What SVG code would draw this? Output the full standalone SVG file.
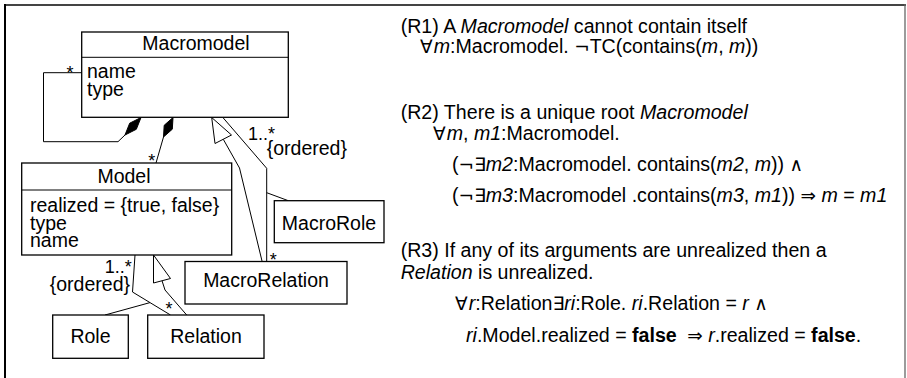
<svg xmlns="http://www.w3.org/2000/svg" width="907" height="378" viewBox="0 0 907 378">
<style>
.box{fill:#fff;stroke:#000;stroke-width:1.3}
.ln{fill:none;stroke:#000;stroke-width:1}
.t{font-family:"Liberation Sans",Arial,"DejaVu Sans",sans-serif;font-size:19.5px;fill:#000}
.s{font-family:"Liberation Sans",Arial,"DejaVu Sans",sans-serif;font-size:18px;fill:#000}
.r{font-family:"Liberation Sans",Arial,"DejaVu Sans",sans-serif;font-size:19.6px;fill:#000}
.i{font-style:italic}
.b{font-weight:bold}
.sym{font-family:"DejaVu Sans",sans-serif;font-size:18.5px;font-weight:normal}
</style>
<rect width="907" height="378" fill="#fff"/>
<g id="frame">
<line x1="4" y1="5" x2="906" y2="5" stroke="#444" stroke-width="2"/>
<line x1="5" y1="4" x2="5" y2="378" stroke="#000" stroke-width="2"/>
<line x1="905" y1="4" x2="905" y2="378" stroke="#666" stroke-width="1.3"/>
</g>
<g id="connectors">
<polyline class="ln" points="82,72.7 43.5,72.7 43.5,141.7 118,141.7 125,135"/>
<polygon points="141,117.5 136.3,129.3 125,135 129.7,123.2" fill="#000" stroke="#000" stroke-width="1"/>
<polyline class="ln" points="163.5,137 156,163"/>
<polygon points="173,117.5 172.3,129.2 163.5,137 164.2,125.3" fill="#000" stroke="#000" stroke-width="1"/>
<polyline class="ln" points="223.3,139.3 239.5,168 262,261"/>
<polygon points="211.7,117.5 215,143.5 231.5,135" fill="#fff" stroke="#000" stroke-width="1"/>
<polyline class="ln" points="223.3,118 266.7,168.3 266.7,261"/>
<polyline class="ln" points="266.7,192.7 288.3,200.7"/>
<polyline class="ln" points="135,255 132.5,292 170.5,315"/>
<polyline class="ln" points="150,302.6 105,315"/>
<polyline class="ln" points="162,280.7 165,290 186.7,315"/>
<polygon points="153.5,255 153.5,283 170.5,278.5" fill="#fff" stroke="#000" stroke-width="1"/>
<text class="s" x="70" y="79" text-anchor="middle">*</text>
<text class="s" x="151.7" y="166.5" text-anchor="middle">*</text>
<text class="s" x="273.3" y="266" text-anchor="middle">*</text>
<text class="s" x="169" y="314.5" text-anchor="middle">*</text>
<text class="s" x="248" y="140">1..*</text>
<text class="t" x="266.7" y="155">{ordered}</text>
<text class="s" x="131.7" y="273" text-anchor="end">1..*</text>
<text class="t" x="130" y="291" text-anchor="end">{ordered}</text>
</g>
<g id="Macromodel">
<rect class="box" x="81.7" y="32" width="206.6" height="85.3"/>
<line class="ln" x1="81.7" y1="57.3" x2="288.3" y2="57.3" stroke-width="1.3"/>
<text class="t" x="196" y="49.5" text-anchor="middle">Macromodel</text>
<text class="t" x="87" y="78">name</text>
<text class="t" x="87" y="95.5">type</text>
</g>
<g id="Model">
<rect class="box" x="21.7" y="163" width="210" height="92"/>
<line class="ln" x1="21.7" y1="190" x2="231.7" y2="190" stroke-width="1.3"/>
<text class="t" x="124" y="183" text-anchor="middle">Model</text>
<text class="t" x="30" y="211.5">realized = {true, false}</text>
<text class="t" x="30" y="229.5">type</text>
<text class="t" x="30" y="246.5">name</text>
</g>
<g id="MacroRole">
<rect class="box" x="274.3" y="200.7" width="109.7" height="42"/>
<text class="t" x="329" y="230" text-anchor="middle">MacroRole</text>
</g>
<g id="MacroRelation">
<rect class="box" x="185" y="261.5" width="162" height="42.5"/>
<text class="t" x="266" y="287" text-anchor="middle">MacroRelation</text>
</g>
<g id="Role">
<rect class="box" x="52.7" y="315" width="75.6" height="43.3"/>
<text class="t" x="90.5" y="343" text-anchor="middle">Role</text>
</g>
<g id="Relation">
<rect class="box" x="147.7" y="315" width="116.3" height="43.3"/>
<text class="t" x="206" y="343" text-anchor="middle">Relation</text>
</g>
<g id="rules">
<text class="r" x="400.7" y="33">(R1) A <tspan class="i">Macromodel</tspan> cannot contain itself</text>
<text class="r" x="420" y="53"><tspan class="sym">∀</tspan><tspan class="i" dx="1">m</tspan>:Macromodel. <tspan class="sym">¬</tspan>TC(contains(<tspan class="i">m</tspan>, <tspan class="i">m</tspan>))</text>
<text class="r" x="400.7" y="119">(R2) There is a unique root <tspan class="i">Macromodel</tspan></text>
<text class="r" x="433" y="140"><tspan class="sym">∀</tspan><tspan class="i" dx="1">m</tspan>, <tspan class="i">m1</tspan>:Macromodel.</text>
<text class="r" x="452" y="171">(<tspan class="sym">¬∃</tspan><tspan class="i">m2</tspan>:Macromodel. contains(<tspan class="i">m2</tspan>, <tspan class="i">m</tspan>)) <tspan class="sym">∧</tspan></text>
<text class="r" x="452" y="202">(<tspan class="sym">¬∃</tspan><tspan class="i">m3</tspan>:Macromodel .contains(<tspan class="i">m3</tspan>, <tspan class="i">m1</tspan>)) <tspan class="sym">⇒</tspan> <tspan class="i">m</tspan> = <tspan class="i">m1</tspan></text>
<text class="r" x="400.7" y="257">(R3) If any of its arguments are unrealized then a</text>
<text class="r" x="400.7" y="279"><tspan class="i">Relation</tspan> is unrealized.</text>
<text class="r" x="455" y="310"><tspan class="sym">∀</tspan><tspan class="i" dx="1">r</tspan>:Relation<tspan class="sym">∃</tspan><tspan class="i">ri</tspan>:Role. <tspan class="i">ri</tspan>.Relation = <tspan class="i">r</tspan> <tspan class="sym">∧</tspan></text>
<text class="r" x="466" y="342"><tspan class="i">ri</tspan>.Model.realized = <tspan class="b">false</tspan><tspan dx="5"> </tspan><tspan class="sym">⇒</tspan> <tspan class="i">r</tspan>.realized = <tspan class="b">false</tspan>.</text>
</g>
</svg>
